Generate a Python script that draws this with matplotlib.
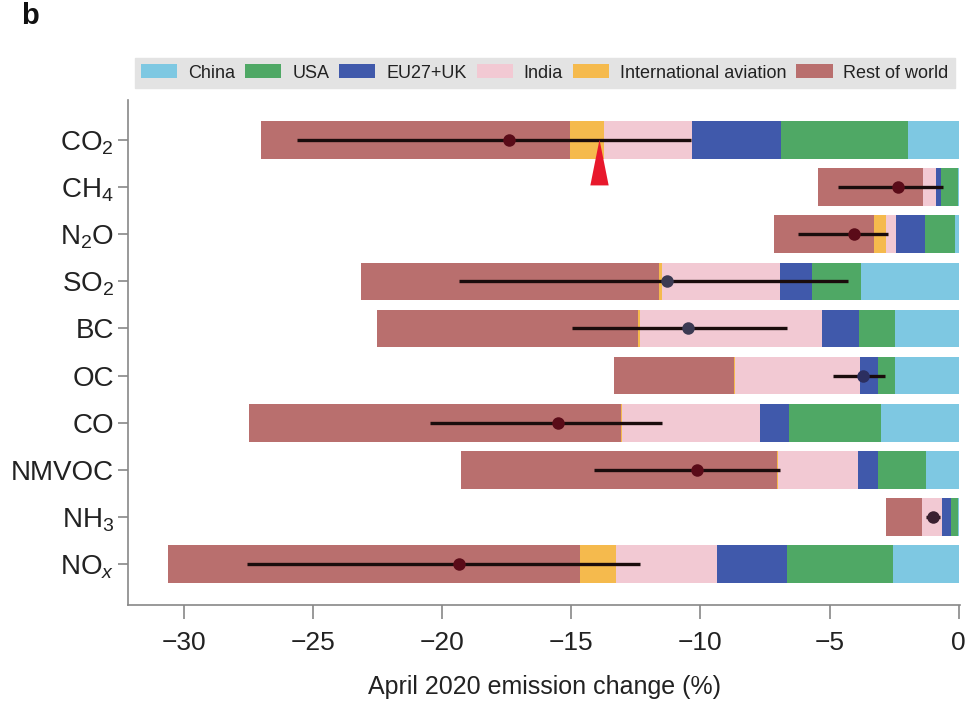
import matplotlib
matplotlib.use("Agg")
import matplotlib.pyplot as plt
from matplotlib import font_manager
import numpy as np

# ---------------- data ----------------
species = ["CO$_2$", "CH$_4$", "N$_2$O", "SO$_2$", "BC", "OC", "CO", "NMVOC", "NH$_3$", r"NO$_{\mathit{x}}$"]
sectors = ["China", "USA", "EU27+UK", "India", "International aviation", "Rest of world"]
colors = ["#7ec8e2", "#4fa865", "#4059ab", "#f2c9d3", "#f5ba4d", "#b96f6e"]

# contribution (%) of each region to April 2020 emission change (negative = decrease)
china    = [-1.97, -0.02, -0.15, -3.78, -2.48, -2.45, -3.01, -1.27, -0.02, -2.53]
usa      = [-4.92, -0.68, -1.17, -1.92, -1.38, -0.66, -3.56, -1.84, -0.28, -4.13]
eu_uk    = [-3.43, -0.19, -1.12, -1.21, -1.45, -0.70, -1.11, -0.80, -0.36, -2.69]
india    = [-3.43, -0.50, -0.39, -4.57, -7.02, -4.86, -5.37, -3.07, -0.75, -3.94]
aviation = [-1.29, 0.00, -0.46, -0.12, -0.10, -0.02, -0.02, -0.05, 0.00, -1.38]
rest     = [-11.98, -4.07, -3.87, -11.55, -10.08, -4.67, -14.40, -12.24, -1.41, -15.97]

# central estimate and uncertainty range
central  = [-17.42, -2.36, -4.07, -11.29, -10.49, -3.72, -15.50, -10.12, -1.00, -19.34]
err_low  = [-25.63, -4.68, -6.24, -19.34, -14.96, -4.88, -20.48, -14.14, -1.28, -27.57]
err_high = [-10.37, -0.62, -2.73, -4.30, -6.66, -2.86, -11.48, -6.93, -0.71, -12.33]
point_colors = ["#5a0b18", "#5a0b18", "#5a0b18", "#3c3a52", "#3c3a52", "#2c2f60",
                "#5a0b18", "#5a0b18", "#3a2030", "#5a0b18"]

# red arrow marker under CO2 bar
arrow_x = -13.93

xticks = [-30, -25, -20, -15, -10, -5, 0]

# ---------------- fonts ----------------
available = {f.name for f in font_manager.fontManager.ttflist}
fam = "Liberation Sans Narrow" if "Liberation Sans Narrow" in available else "Liberation Sans"
plt.rcParams["font.family"] = [fam, "DejaVu Sans"]
plt.rcParams["mathtext.fontset"] = "custom"
plt.rcParams["mathtext.rm"] = fam
plt.rcParams["mathtext.it"] = fam + ":italic"
plt.rcParams["mathtext.default"] = "regular"

fig = plt.figure(figsize=(9.78, 7.07), dpi=100)
ax = fig.add_axes([128 / 978, 1 - 605 / 707, (960 - 128) / 978, (605 - 100) / 707])

n = len(species)
ypos = np.arange(n)[::-1]  # CO2 on top

stack = [china, usa, eu_uk, india, aviation, rest]
left = np.zeros(n)
for vals, c, lab in zip(stack, colors, sectors):
    v = np.array(vals)
    ax.barh(ypos, v, left=left, height=0.8, color=c, label=lab, linewidth=0)
    left = left + v

# uncertainty lines and central points
ax.hlines(ypos, err_low, err_high, color="#1a0c0c", linewidth=2.4, zorder=3)
for yy, cx, pc in zip(ypos, central, point_colors):
    ax.plot(cx, yy, "o", color=pc, markersize=9, markeredgewidth=0, zorder=4)

# red triangle under CO2
tri = [(-0.2, -0.5), (0.2, -0.5), (0.0, 0.5)]
ax.plot(arrow_x, ypos[0] - 0.47, marker=tri, markersize=33, color="#e8182c",
        markeredgewidth=0, zorder=5, clip_on=False)

ax.set_xlim(-32.17, 0.05)
ax.set_ylim(-0.87, n - 1 + 0.85)
ax.set_yticks(ypos)
ax.set_yticklabels(species, fontsize=20, color="#222222")
ax.set_xticks(xticks)
ax.set_xticklabels([f"\u2212{abs(t)}" if t < 0 else str(t) for t in xticks],
                   fontsize=19, color="#222222")
ax.set_xlabel("April 2020 emission change (%)", fontsize=18, color="#222222", labelpad=14)

for s in ["top", "right"]:
    ax.spines[s].set_visible(False)
for s in ["left", "bottom"]:
    ax.spines[s].set_color("#888888")
    ax.spines[s].set_linewidth(1.2)
ax.tick_params(axis="y", length=7, width=1.2, color="#888888", pad=3)
ax.tick_params(axis="x", length=10, width=1.2, color="#888888", pad=9)

leg = fig.legend(loc="center", bbox_to_anchor=(135 / 978, 1 - 88 / 707, 820 / 978, 30 / 707),
                 mode="expand", ncol=6, frameon=True, facecolor="#e3e3e3", edgecolor="#e3e3e3",
                 fancybox=False, fontsize=13, handlelength=2.0, handleheight=0.8,
                 borderaxespad=0, borderpad=0.35, columnspacing=0.8, handletextpad=0.6)
leg.get_frame().set_alpha(1)
for t in leg.get_texts():
    t.set_color("#222222")

fig.text(0.022, 0.997, "b", fontsize=21, fontweight="bold", va="top", ha="left", color="#111111")

fig.savefig("out.png", dpi=100)
